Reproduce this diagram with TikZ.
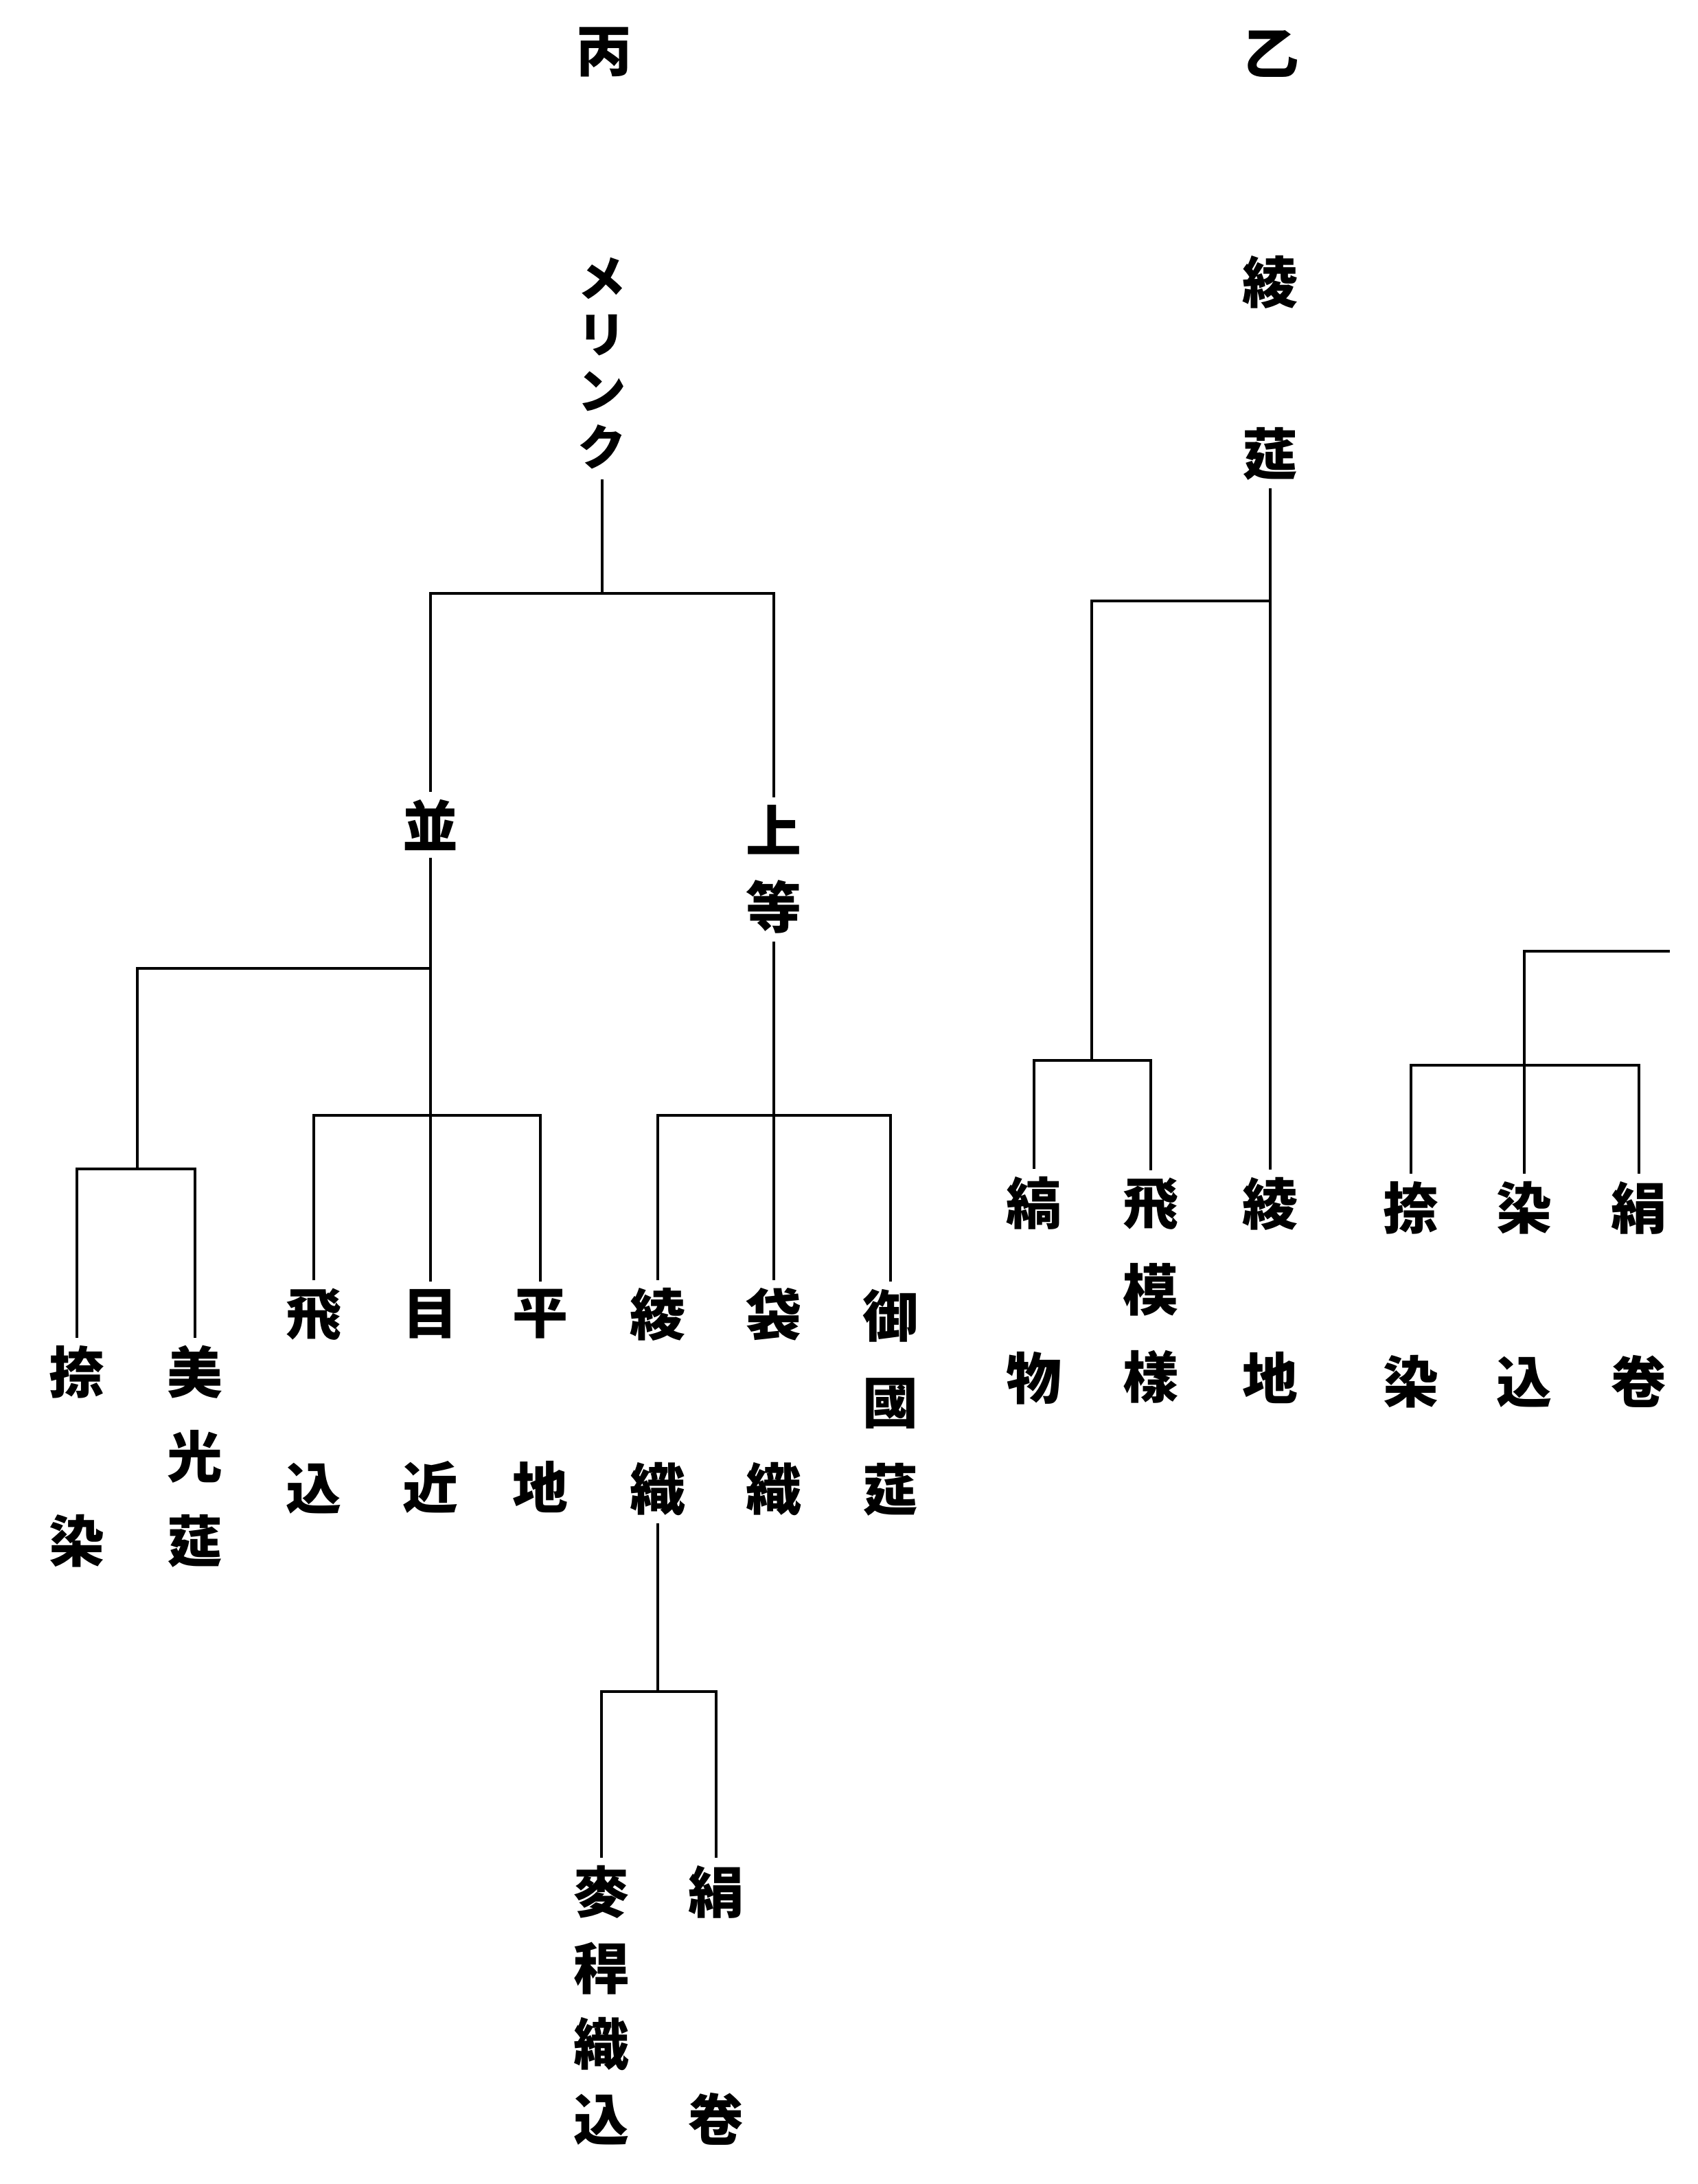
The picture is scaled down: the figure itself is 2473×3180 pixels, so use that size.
\documentclass[tikz,border=0pt]{standalone}
\usepackage{fontspec}
\usepackage{tikz}
\newfontfamily\cjk{Noto Sans CJK JP}

\begin{document}
\begin{tikzpicture}[x=0.01cm, y=-0.01cm,
  lab/.style={font=\cjk\bfseries\fontsize{23}{#1}\selectfont, align=center, inner sep=3pt},
  lab/.default=36pt,
  kana/.style={font=\cjk\bfseries\fontsize{20}{23.3pt}\selectfont, align=center, inner sep=4pt},
  tree/.style={line width=1.3pt}]
\useasboundingbox (0,0) rectangle (2473,3180);
\node[lab] (bing) at (880,76) {丙};
\node[lab] (otsu) at (1852,78) {乙};
\node[kana] (meri) at (877,529) {メ\\リ\\ン\\ク};
\node[lab] (nami) at (627,1201) {並};
\node[lab=31.6pt] (joto) at (1127,1266) {上\\等};
\node[lab=35pt] (nasen) at (112,2121) {捺\\[35pt]染};
\node[lab=35pt] (biko) at (284,2121) {美\\光\\莚};
\node[lab] (tobi) at (457,2040) {飛\\[36.3pt]込};
\node[lab] (mejika) at (627,2040) {目\\[36.3pt]近};
\node[lab] (hiraji) at (787,2040) {平\\[36.3pt]地};
\node[lab] (ayaori) at (958,2041) {綾\\[36.3pt]織};
\node[lab] (fukuro) at (1127,2041) {袋\\[36.3pt]織};
\node[lab] (gokoku) at (1297,2042) {御\\國\\莚};
\node[lab=31.4pt] (mugi) at (876,2920) {麥\\稈\\織\\込};
\node[lab=31.4pt] (kinu) at (1043,2920) {絹\\[62.8pt]卷};
\node[lab=35.5pt] (ayamu) at (1850,536) {綾\\[35.5pt]莚};
\node[lab] (shima) at (1506,1879) {縞\\[36.4pt]物};
\node[lab] (tobimo) at (1676,1879) {飛\\模\\樣};
\node[lab] (ayaji) at (1850,1879) {綾\\[36.4pt]地};
\node[lab] (nasen2) at (2055,1885) {捺\\[36pt]染};
\node[lab] (somekomi) at (2220,1885) {染\\[36pt]込};
\node[lab] (kinu2) at (2387,1885) {絹\\[36pt]卷};
\coordinate (r0) at (0,864);
\coordinate (r1) at (0,1410);
\coordinate (r2) at (0,1624);
\coordinate (r4) at (0,2463);
\coordinate (r5) at (0,875);
\coordinate (f1) at (200,1702);
\coordinate (f2) at (1590,1544);
\coordinate (r7) at (0,1551);
\coordinate (top) at (2432,1385);
\draw[tree] (meri) -- (meri |- r0);
\draw[tree] (nami) |- (r0 -| joto) -- (joto);
\draw[tree] (nami) -- (mejika);
\draw[tree] (tobi) |- (r2 -| hiraji) -- (hiraji);
\draw[tree] (nami |- r1) -| (f1);
\draw[tree] (nasen) |- (f1 -| biko) -- (biko);
\draw[tree] (joto) -- (fukuro);
\draw[tree] (ayaori) |- (r2 -| gokoku) -- (gokoku);
\draw[tree] (ayaori) -- (ayaori |- r4);
\draw[tree] (mugi) |- (r4 -| kinu) -- (kinu);
\draw[tree] (ayamu) -- (ayaji);
\draw[tree] (ayamu |- r5) -| (f2);
\draw[tree] (shima) |- (f2 -| tobimo) -- (tobimo);
\draw[tree] (top) -| (somekomi);
\draw[tree] (nasen2) |- (r7 -| kinu2) -- (kinu2);
\end{tikzpicture}
\end{document}
